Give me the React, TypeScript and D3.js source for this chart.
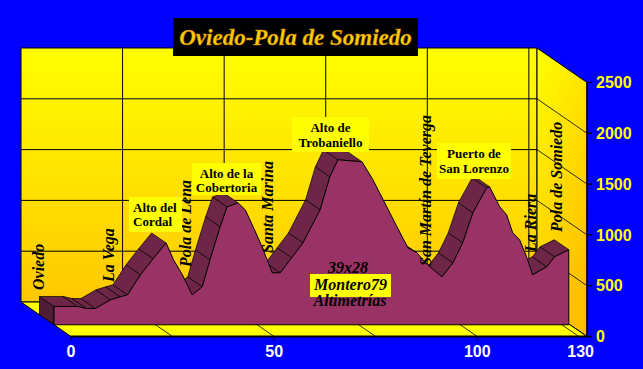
import React from 'react';
import * as d3 from 'd3';

const W = 643;
const H = 369;

// route profile: distance (km) and altitude (m)
const km = [0, 5.8, 8, 10.2, 13.9, 16.3, 18.1, 21.3, 24.4, 27.6, 29.4, 31.6, 34.0, 36.5, 38.4, 40.9, 42.6, 45.3, 47.1, 49.0, 51.2, 53.7, 55.7, 58.5, 61.3, 65.5, 67.9, 69.9, 75.8, 78.5, 81.9, 84.4, 87.1, 89.3, 90.8, 92.5, 95.5, 98.2, 100.6, 103.1, 106.5, 107.2, 109.7, 111.4, 112.9, 114.6, 116.3, 117.8, 121.3, 123.2, 126.7];
const elev = [180, 180, 160, 160, 245, 275, 295, 492, 650, 805, 640, 492, 295, 374, 640, 965, 1160, 1200, 1130, 965, 768, 512, 512, 660, 807, 1132, 1457, 1624, 1604, 1427, 1161, 965, 758, 709, 640, 571, 472, 610, 807, 1102, 1348, 1358, 1161, 1083, 905, 837, 669, 492, 571, 669, 738];

const yTicks = [0, 500, 1000, 1500, 2000, 2500];
const xGrid = [0, 25, 50, 75, 100, 125];
const xTicks = [0, 50, 100, 130];

const title = 'Oviedo-Pola de Somiedo';
const peaks = [['Alto del', 'Cordal'], ['Alto de la', 'Cobertoria'], ['Alto de', 'Trobaniello'], ['Puerto de', 'San Lorenzo']];
const towns = ['Oviedo', 'La Vega', 'Pola de Lena', 'Santa Marina', 'San Martín de Teverga', 'La Riera', 'Pola de Somiedo'];
const credits = ['39x28', 'Montero79', 'Altimetrías'];

// layout of annotations (screen px)
const peakBoxes = [
  { x: 129, y: 197, w: 53, h: 35, tx: 133, anchor: 'start', b: [211.5, 225.5] },
  { x: 192, y: 163, w: 69, h: 32, tx: 226.5, anchor: 'middle', b: [177.5, 192] },
  { x: 292, y: 117, w: 77, h: 35, tx: 330.5, anchor: 'middle', b: [131.5, 146.5] },
  { x: 437, y: 143, w: 74, h: 36, tx: 474, anchor: 'middle', b: [157.5, 172.5] },
];
const townPos = [[44, 290], [114, 282], [191, 267], [273, 253], [431, 266], [536, 252], [562, 232]];

const X_MAX = 127;
const DX = 50, DY = 34.5;
const ZB = 0.37, ZF = 0.66;

const xs = d3.scaleLinear().domain([0, X_MAX]).range([21, 537]);
const ys = d3.scaleLinear().domain([0, 2500]).range([302, 48]);
const proj = (k: number, e: number, z: number): [number, number] => [xs(k) + z * DX, ys(e) + z * DY];
const line = d3.line();
const poly = (pts: [number, number][]) => line(pts) + 'Z';

export default function App() {
  const n = km.length;
  const front = km.map((k, i) => proj(k, elev[i], ZF));
  const back = km.map((k, i) => proj(k, elev[i], ZB));
  const ox = (ZF - ZB) * DX, oy = (ZF - ZB) * DY;

  const ribbons: [number, number][][] = [];
  for (let i = 0; i < n - 1; i++) {
    const a = front[i], b = front[i + 1];
    const vis = (b[0] - a[0]) * oy - (b[1] - a[1]) * ox > 0;
    if (vis) ribbons.push([back[i], back[i + 1], b, a]);
  }
  const frontFace = [...front, proj(km[n - 1], 0, ZF), proj(km[0], 0, ZF)];
  const leftFace = [back[0], front[0], proj(km[0], 0, ZF), proj(km[0], 0, ZB)];

  const x0 = xs(0), x1 = xs(X_MAX), y0 = ys(0), yTop = ys(2500);
  const serif = '"Liberation Serif", "Times New Roman", serif';
  const sans = '"Liberation Sans", Arial, sans-serif';

  return (
    <svg width={W} height={H} style={{ position: 'absolute', left: 0, top: 0, display: 'block' }}>
      <defs>
        <linearGradient id="wall" x1="0" y1="0" x2="0" y2="1">
          <stop offset="0%" stopColor="#ffff00" />
          <stop offset="100%" stopColor="#ffc800" />
        </linearGradient>
        <linearGradient id="side" x1="0" y1="0" x2="0.4" y2="1">
          <stop offset="0%" stopColor="#ffff00" />
          <stop offset="100%" stopColor="#ffc000" />
        </linearGradient>
      </defs>
      <rect width={W} height={H} fill="#0000ff" />

      {/* back wall */}
      <rect x={x0} y={yTop} width={x1 - x0} height={y0 - yTop} fill="url(#wall)" stroke="#000" />
      {yTicks.slice(1, -1).map(t => (
        <line key={'h' + t} x1={x0} x2={x1} y1={ys(t)} y2={ys(t)} stroke="#000" />
      ))}
      {xGrid.slice(1).map(t => (
        <line key={'v' + t} x1={xs(t)} x2={xs(t)} y1={yTop} y2={y0} stroke="#000" />
      ))}

      {/* right wall */}
      <path d={poly([[x1, yTop], [x1 + DX, yTop + DY], [x1 + DX, y0 + DY], [x1, y0]])} fill="url(#side)" stroke="#000" />
      {yTicks.slice(1, -1).map(t => (
        <line key={'r' + t} x1={x1} y1={ys(t)} x2={x1 + DX} y2={ys(t) + DY} stroke="#000" strokeWidth={0.8} />
      ))}

      {/* floor */}
      <path d={poly([[x0, y0], [x1, y0], [x1 + DX, y0 + DY], [x0 + DX, y0 + DY]])} fill="#ffff00" stroke="#000" />
      {xGrid.slice(1).map(t => (
        <line key={'f' + t} x1={xs(t)} y1={y0} x2={xs(t) + DX} y2={y0 + DY} stroke="#000" strokeWidth={0.8} />
      ))}
      <line x1={x0 + DX} x2={x1 + DX} y1={y0 + DY} y2={y0 + DY} stroke="#000" strokeWidth={2} />

      {/* series */}
      <path d={poly(leftFace)} fill="#4f1d36" stroke="#000" strokeWidth={0.8} />
      {ribbons.map((r, i) => (
        <path key={'rb' + i} d={poly(r)} fill="#6e2648" stroke="#000" strokeWidth={0.7} />
      ))}
      <path d={poly(frontFace)} fill="#993366" stroke="#000" strokeWidth={1} />

      {/* x axis */}
      {xTicks.map((t, i) => {
        const last = t > X_MAX;
        const px = xs(Math.min(t, X_MAX)) + DX;
        return (
          <g key={'xt' + t}>
            {!last && <line x1={px} x2={px} y1={y0 + DY} y2={y0 + DY + 4} stroke="#000" />}
            <text x={last ? px + 7 : px} y={356.5} fill="#fff" fontFamily={sans} fontSize={16} fontWeight="bold"
              textAnchor={last ? 'end' : 'middle'}>{String(xTicks[i])}</text>
          </g>
        );
      })}

      {/* y axis */}
      <line x1={x1 + DX} x2={x1 + DX} y1={yTop + DY} y2={y0 + DY} stroke="#000" strokeWidth={1.5} />
      {yTicks.map(t => (
        <g key={'yt' + t}>
          <line x1={x1 + DX} x2={x1 + DX + 5} y1={ys(t) + DY} y2={ys(t) + DY} stroke="#000" strokeWidth={1.5} />
          <text x={596} y={ys(t) + DY} dy="0.36em" fill="#ffff00" fontFamily={sans} fontSize={16} fontWeight="bold">{t}</text>
        </g>
      ))}

      {/* town labels */}
      {towns.map((t, i) => (
        <text key={t} transform={`translate(${townPos[i][0]},${townPos[i][1]}) rotate(-90)`}
          fontFamily={serif} fontSize={16} fontWeight="bold" fontStyle="italic" fill="#000">{t}</text>
      ))}

      {/* peak labels */}
      {peaks.map((p, i) => {
        const b = peakBoxes[i];
        return (
          <g key={p[1]}>
            <rect x={b.x} y={b.y} width={b.w} height={b.h} fill="#ffff00" />
            {p.map((s, j) => (
              <text key={s} x={b.tx} y={b.b[j]} textAnchor={b.anchor as any} fontFamily={serif} fontSize={13} fontWeight="bold" fill="#000">{s}</text>
            ))}
          </g>
        );
      })}

      {/* credits */}
      <text x={348} y={272.5} textAnchor="middle" fontFamily={serif} fontSize={16} fontWeight="bold" fontStyle="italic">{credits[0]}</text>
      <rect x={310} y={274} width={81} height={23} fill="#ffff00" />
      <text x={350.5} y={290} textAnchor="middle" fontFamily={serif} fontSize={16} fontWeight="bold" fontStyle="italic">{credits[1]}</text>
      <text x={350} y={306} textAnchor="middle" fontFamily={serif} fontSize={16} fontWeight="bold" fontStyle="italic">{credits[2]}</text>

      {/* title */}
      <rect x={173} y={18} width={245} height={38} fill="#000" />
      <text x={295.5} y={44.5} textAnchor="middle" fontFamily={serif} fontSize={23} fontWeight="bold" fontStyle="italic"
        fill="#ffcc00" stroke="#c07800" strokeWidth={0.4}>{title}</text>
    </svg>
  );
}
